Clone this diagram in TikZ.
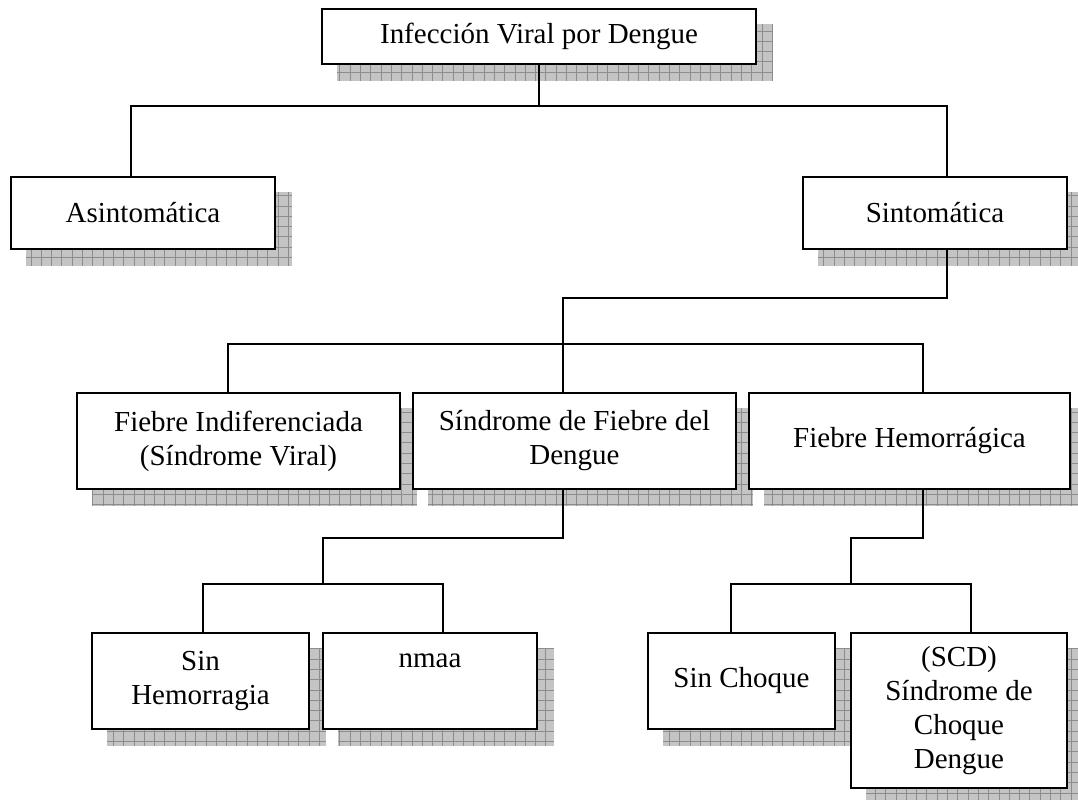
\documentclass[tikz,border=0pt]{standalone}
\usepackage{fontspec}
\setmainfont{Liberation Serif}
\usepackage{tikz}
\usetikzlibrary{calc,backgrounds}
\definecolor{grisclair}{RGB}{196,196,196}
\definecolor{grisfonce}{RGB}{140,140,140}
\tikzset{
  caja/.style={draw,line width=1.1pt,fill=white,align=center,inner sep=0pt,font=\fontsize{16.5}{19.4}\selectfont},
  linea/.style={line width=1.1pt},
  sombra/.style={fill=grisclair,path picture={\draw[grisfonce,line width=0.4pt,step=0.206cm] (path picture bounding box.south west) grid (path picture bounding box.north east);}}
}
\begin{document}
\begin{tikzpicture}[x=0.02cm,y=-0.02cm]
\useasboundingbox (0,0) rectangle (1078,800);
\node[caja,minimum width=8.68cm,minimum height=1.1cm] (root) at (539,36.5) {Infección Viral por Dengue};
\node[caja,minimum width=5.28cm,minimum height=1.44cm] (asin) at (143,213) {Asintomática};
\node[caja,minimum width=5.28cm,minimum height=1.44cm] (sint) at (935,213) {Sintomática};
\node[caja,minimum width=6.46cm,minimum height=1.92cm] (find) at (238.5,441) {Fiebre Indiferenciada\\(Síndrome Viral)};
\node[caja,minimum width=6.46cm,minimum height=1.92cm] (sfd) at (574.5,441) {Síndrome de Fiebre del\\Dengue};
\node[caja,minimum width=6.42cm,minimum height=1.92cm] (fhem) at (909.5,441) {Fiebre Hemorrágica};
\node[caja,minimum width=4.34cm,minimum height=1.92cm] (shem) at (200.5,681) {Sin\\Hemorragia};
\node[caja,minimum width=4.28cm,minimum height=1.92cm] (nmaa) at (430,681) {nmaa\\\phantom{Hemorragia}};
\node[caja,minimum width=3.74cm,minimum height=1.92cm] (schq) at (741.5,681) {Sin Choque};
\node[caja,minimum width=4.32cm,minimum height=3.1cm] (scd) at (959,710.5) {(SCD)\\Síndrome de\\Choque\\Dengue};
\begin{scope}[on background layer]
\foreach \n in {root,asin,sint,find,sfd,fhem,shem,nmaa,schq,scd}
  \path[sombra] ($(\n.south west)+(16,16)$) rectangle ($(\n.north east)+(16,16)$);
\end{scope}
\draw[linea] (root.south) -- ++(0,41) -| ($(asin.north)+(-12,0)$);
\draw[linea] (root.south) ++(0,41) -| ($(sint.north)+(12,0)$);
\draw[linea] ($(sint.south)+(12,0)$) -- ++(0,48) -| ($(sfd.north)+(-11.5,0)$);
\draw[linea] ($(find.north)+(-10.5,0)$) |- ($(fhem.north)+(13.5,-48)$) -- ($(fhem.north)+(13.5,0)$);
\coordinate (d1) at ($(shem.north)+(2.5,0)$);
\coordinate (d2) at ($(nmaa.north)+(13,0)$);
\coordinate (d3) at ($(schq.north)+(-10.5,0)$);
\coordinate (d4) at ($(scd.north)+(12,0)$);
\draw[linea] (d1) -- ++(0,-48) -| (d2);
\draw[linea] (d3) -- ++(0,-48) -| (d4);
\draw[linea] ($(sfd.south)+(-11.5,0)$) -- ++(0,48) -| ($(d1)!.5!(d2)+(0,-48)$);
\draw[linea] ($(fhem.south)+(13.5,0)$) -- ++(0,48) -| ($(d3)!.5!(d4)+(0,-48)$);
\end{tikzpicture}
\end{document}
